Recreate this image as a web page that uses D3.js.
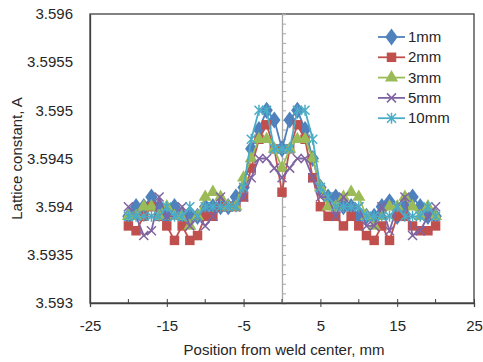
<!DOCTYPE html>
<html>
<head>
<meta charset="utf-8">
<script src="https://cdn.jsdelivr.net/npm/d3@7"></script>
<style>
  body { margin: 0; background: #fff; }
  svg text { font-family: "Liberation Sans", Arial, sans-serif; fill: #262626; }
</style>
</head>
<body>
<div id="chart"></div>
<script>
// positions along the weld, mm
const positions = [-20,-19,-18,-17,-16,-15,-14,-13,-12,-11,-10,-9,-8,-7,-6,-5,-4,-3,-2,-1,0,
                   1,2,3,4,5,6,7,8,9,10,11,12,13,14,15,16,17,18,19,20];

const s1mm = [3.5939,3.5940,3.5940,3.5941,3.5940,3.5939,3.5940,3.5939,3.5939,3.5939,3.5940,3.5940,3.5940,3.5940,3.5941,3.5942,3.5946,3.5948,3.5950,3.5949,3.5946,
              3.5949,3.5950,3.5948,3.5945,3.5942,3.5941,3.5941,3.5940,3.5940,3.5939,3.5939,3.5939,3.5940,3.59405,3.5939,3.5940,3.5941,3.5940,3.5939,3.5939];
const s2mm = [3.5938,3.59375,3.5939,3.5940,3.5939,3.5938,3.59365,3.5938,3.59365,3.5937,3.5939,3.5939,3.5940,3.5940,3.5940,3.5941,3.5944,3.5947,3.59485,3.5946,3.59415,
              3.5946,3.59485,3.5947,3.5943,3.5940,3.5939,3.5939,3.5938,3.5939,3.5938,3.5937,3.59365,3.5938,3.59365,3.5939,3.5939,3.5938,3.59375,3.59375,3.5938];
const s3mm = [3.5939,3.5939,3.5940,3.5940,3.5939,3.5940,3.5939,3.5939,3.5938,3.5939,3.5941,3.59415,3.5941,3.5940,3.5940,3.5943,3.5945,3.5947,3.5947,3.5946,3.5944,
              3.5946,3.5947,3.5947,3.5945,3.5942,3.5940,3.5940,3.5941,3.59415,3.5941,3.5939,3.5938,3.5939,3.5940,3.5940,3.5941,3.5940,3.5939,3.5940,3.5939];
const s5mm = [3.5940,3.5939,3.5937,3.59375,3.5941,3.5939,3.5939,3.5940,3.5938,3.5939,3.5938,3.5939,3.5941,3.5940,3.5940,3.5941,3.5943,3.5945,3.5945,3.5944,3.5943,
              3.5944,3.5945,3.5945,3.5943,3.5941,3.5941,3.5939,3.5941,3.5940,3.5940,3.5938,3.5938,3.5940,3.59375,3.5940,3.5941,3.5937,3.59375,3.5939,3.5940];
const s10mm = [3.5939,3.5939,3.5939,3.5939,3.5939,3.5940,3.5939,3.5939,3.5940,3.5939,3.5940,3.5940,3.5940,3.5940,3.5940,3.5942,3.5947,3.5950,3.5950,3.5946,3.5946,
               3.5946,3.5950,3.5950,3.5947,3.5942,3.5941,3.5940,3.5940,3.5940,3.5940,3.5939,3.5939,3.5939,3.5939,3.5940,3.5939,3.5939,3.5939,3.5940,3.5939];

const seriesNames = ["1mm", "2mm", "3mm", "5mm", "10mm"];
const seriesColors = ["#4F81BD", "#C0504D", "#9BBB59", "#8064A2", "#4BACC6"];
const seriesShapes = ["diamond", "square", "triangle", "x", "star"];
const xTicks = [-25, -15, -5, 5, 15, 25];
const xMinorTicks = [-20, -10, 0, 10, 20];
const yTicks = [3.593, 3.5935, 3.594, 3.5945, 3.595, 3.5955, 3.596];

const width = 483, height = 362;
const margin = {left: 90, right: 9, top: 14, bottom: 59};

let svg = d3.select("#chart").append("svg")
    .attr("width", width)
    .attr("height", height);

let xScale = d3.scaleLinear().domain([-25, 25]).range([margin.left, width - margin.right]);
let yScale = d3.scaleLinear().domain([3.593, 3.596]).range([height - margin.bottom, margin.top]);

// plot frame (top/right)
svg.append("rect")
    .attr("x", xScale(-25)).attr("y", yScale(3.596))
    .attr("width", xScale(25) - xScale(-25))
    .attr("height", yScale(3.593) - yScale(3.596))
    .attr("fill", "none").attr("stroke", "#404040").attr("stroke-width", 1.3);

// gray axis line at x = 0 with small ticks
let zeroAxis = svg.append("g").attr("transform", "translate(" + xScale(0) + ",0)")
    .call(d3.axisRight(yScale).ticks(30).tickSize(4).tickFormat(""));
zeroAxis.select(".domain").attr("stroke", "#a6a6a6").attr("stroke-width", 1.3);
zeroAxis.selectAll(".tick line").attr("stroke", "#a6a6a6");

// x axis: major ticks cross, minor inside
let xAxis = svg.append("g").attr("transform", "translate(0," + yScale(3.593) + ")")
    .call(d3.axisBottom(xScale).tickValues(xTicks).tickSize(4).tickFormat(d => String(d)));
xAxis.select(".domain").attr("stroke", "#404040").attr("stroke-width", 1.3);
xAxis.selectAll(".tick line").attr("y1", -4).attr("stroke", "#404040");
xAxis.selectAll(".tick text").attr("y", 17).style("font-size", "15px")
    .style("font-family", "Liberation Sans, Arial, sans-serif").attr("fill", "#262626");
xAxis.selectAll(".minor").data(xMinorTicks).enter().append("line")
    .attr("x1", d => xScale(d)).attr("x2", d => xScale(d))
    .attr("y1", 0).attr("y2", -4).attr("stroke", "#404040");

// y axis
let yAxis = svg.append("g").attr("transform", "translate(" + xScale(-25) + ",0)")
    .call(d3.axisLeft(yScale).tickValues(yTicks).tickSize(0).tickPadding(17).tickFormat(d => String(+d.toFixed(4))));
yAxis.select(".domain").attr("stroke", "#404040").attr("stroke-width", 1.3);
yAxis.selectAll(".tick text").style("font-size", "15px")
    .style("font-family", "Liberation Sans, Arial, sans-serif").attr("fill", "#262626");

// axis titles
svg.append("text")
    .attr("x", (xScale(-25) + xScale(25)) / 2 + 2).attr("y", 355)
    .attr("text-anchor", "middle").style("font-size", "15px")
    .text("Position from weld center, mm");
svg.append("text")
    .attr("transform", "translate(22," + ((yScale(3.593) + yScale(3.596)) / 2) + ") rotate(-90)")
    .attr("text-anchor", "middle").style("font-size", "15px")
    .text("Lattice constant, A");

function drawMarker(g, shape, color, cx, cy) {
    if (shape === "diamond") {
        g.append("path").attr("d", d3.symbol().type(d3.symbolDiamond).size(85)())
            .attr("transform", "translate(" + cx + "," + cy + ") scale(1.25,1)").attr("fill", color);
    } else if (shape === "square") {
        g.append("path").attr("d", d3.symbol().type(d3.symbolSquare).size(90)())
            .attr("transform", "translate(" + cx + "," + cy + ")").attr("fill", color);
    } else if (shape === "triangle") {
        g.append("path").attr("d", d3.symbol().type(d3.symbolTriangle).size(75)())
            .attr("transform", "translate(" + cx + "," + cy + ")").attr("fill", color);
    } else if (shape === "x") {
        g.append("path").attr("d", "M-4.5,-4.5L4.5,4.5M-4.5,4.5L4.5,-4.5")
            .attr("transform", "translate(" + cx + "," + cy + ")")
            .attr("stroke", color).attr("stroke-width", 1.5).attr("fill", "none");
    } else {
        g.append("path").attr("d", "M-4.5,-4.5L4.5,4.5M-4.5,4.5L4.5,-4.5M0,-5.5L0,5.5")
            .attr("transform", "translate(" + cx + "," + cy + ")")
            .attr("stroke", color).attr("stroke-width", 1.5).attr("fill", "none");
    }
}

let allSeries = [s1mm, s2mm, s3mm, s5mm, s10mm];
let lineGen = d3.line()
    .x((d, i) => xScale(positions[i]))
    .y(d => yScale(d));

let plot = svg.append("g").attr("id", "series");
allSeries.forEach((vals, k) => {
    let g = plot.append("g");
    g.append("path").attr("d", lineGen(vals))
        .attr("fill", "none").attr("stroke", seriesColors[k]).attr("stroke-width", 1.8);
    vals.forEach((v, i) => drawMarker(g, seriesShapes[k], seriesColors[k], xScale(positions[i]), yScale(v)));
});

// legend
let legend = svg.append("g").attr("transform", "translate(378,37)");
seriesNames.forEach((name, k) => {
    let row = legend.append("g").attr("transform", "translate(0," + (k * 20.3) + ")");
    row.append("line").attr("x1", 0).attr("x2", 27).attr("y1", 0).attr("y2", 0)
        .attr("stroke", seriesColors[k]).attr("stroke-width", 1.8);
    drawMarker(row, seriesShapes[k], seriesColors[k], 13.5, 0);
    row.append("text").attr("x", 30).attr("y", 5).style("font-size", "15px").text(name);
});
</script>
</body>
</html>
